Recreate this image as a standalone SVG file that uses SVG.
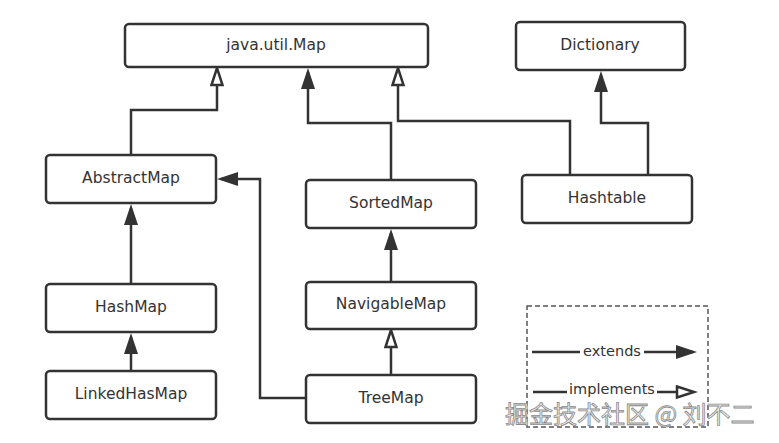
<svg xmlns="http://www.w3.org/2000/svg" width="779" height="443" viewBox="0 0 779 443">
<style>
.box{fill:#fff;stroke:#333;stroke-width:2.5}
.lbl{font-family:"DejaVu Sans","Liberation Sans",sans-serif;font-size:15.5px;fill:#333;text-anchor:middle;dominant-baseline:central}
.edge{fill:none;stroke:#333;stroke-width:2.5}
.leg{font-family:"DejaVu Sans","Liberation Sans",sans-serif;font-size:14.5px;fill:#333;text-anchor:middle;dominant-baseline:central}
.wm{font-family:"Noto Sans CJK SC",sans-serif;font-size:24px;fill:#f2f2f2;stroke:#8a8a8a;stroke-width:0.8}
</style>
<defs>
<marker id="ext" markerUnits="userSpaceOnUse" markerWidth="24" markerHeight="16" refX="17" refY="7" orient="auto">
<path d="M0,0 L21,7 L0,14 z" fill="#333"/>
</marker>
<marker id="imp" markerUnits="userSpaceOnUse" markerWidth="24" markerHeight="16" refX="15" refY="7" orient="auto">
<path d="M2,1.5 L19,7 L2,12.5 z" fill="#fff" stroke="#333" stroke-width="2.5"/>
</marker>
</defs>
<rect width="779" height="443" fill="#fff"/>
<g id="connectors">
<path class="edge" d="M131,155 V110 H217 V72" marker-end="url(#imp)"/>
<path class="edge" d="M391,180 V123 H308 V72" marker-end="url(#ext)"/>
<path class="edge" d="M570,175 V121 H398 V72" marker-end="url(#imp)"/>
<path class="edge" d="M648,175 V123 H601 V75" marker-end="url(#ext)"/>
<path class="edge" d="M131,284 V208" marker-end="url(#ext)"/>
<path class="edge" d="M131,371 V337" marker-end="url(#ext)"/>
<path class="edge" d="M306,398 H260 V179 H221" marker-end="url(#ext)"/>
<path class="edge" d="M391,282 V233" marker-end="url(#ext)"/>
<path class="edge" d="M391,375 V334" marker-end="url(#imp)"/>
</g>
<g id="map"><rect class="box" x="125" y="24" width="303" height="43" rx="4"/><text class="lbl" x="276" y="45">java.util.Map</text></g>
<g id="dictionary"><rect class="box" x="516" y="22" width="169" height="48" rx="4"/><text class="lbl" x="600" y="45">Dictionary</text></g>
<g id="abstractmap"><rect class="box" x="46" y="155" width="170" height="48" rx="4"/><text class="lbl" x="131" y="178">AbstractMap</text></g>
<g id="sortedmap"><rect class="box" x="306" y="180" width="170" height="48" rx="4"/><text class="lbl" x="391" y="203">SortedMap</text></g>
<g id="hashtable"><rect class="box" x="522" y="175" width="170" height="48" rx="4"/><text class="lbl" x="607" y="198">Hashtable</text></g>
<g id="hashmap"><rect class="box" x="46" y="284" width="170" height="48" rx="4"/><text class="lbl" x="131" y="307">HashMap</text></g>
<g id="navigablemap"><rect class="box" x="306" y="282" width="170" height="47" rx="4"/><text class="lbl" x="391" y="304">NavigableMap</text></g>
<g id="linkedhasmap"><rect class="box" x="46" y="371" width="170" height="48" rx="4"/><text class="lbl" x="131" y="394">LinkedHasMap</text></g>
<g id="treemap"><rect class="box" x="306" y="375" width="170" height="48" rx="4"/><text class="lbl" x="391" y="398">TreeMap</text></g>
<g id="legend">
<rect x="527" y="306" width="181" height="121" fill="none" stroke="#555" stroke-width="1.5" stroke-dasharray="5,3"/>
<path class="edge" d="M532,352 H580"/>
<path class="edge" d="M644,352 H693" marker-end="url(#ext)"/>
<text class="leg" x="612" y="351">extends</text>
<path class="edge" d="M533,392 H567"/>
<path class="edge" d="M657,392 H690" marker-end="url(#imp)"/>
<text class="leg" x="612" y="389">implements</text>
</g>
<text class="wm" x="505" y="423">掘金技术社区 @ 刘不二</text>
</svg>
